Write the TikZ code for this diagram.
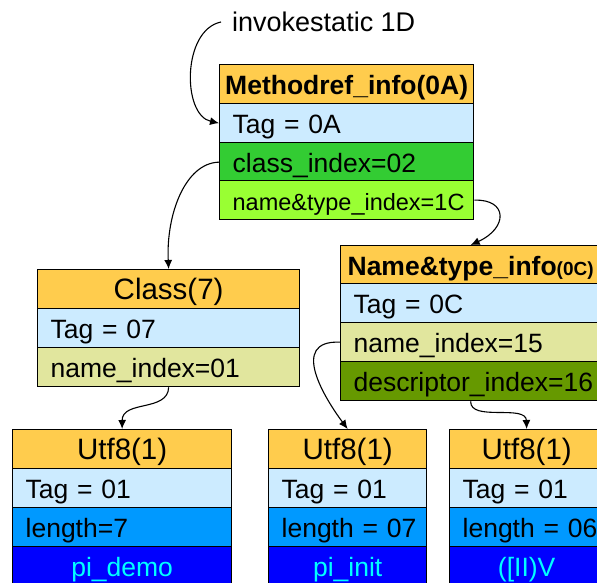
\documentclass[tikz,border=0pt]{standalone}
\usepackage{fontspec}
\setmainfont{Liberation Sans}
\usetikzlibrary{arrows.meta}
\definecolor{hdr}{HTML}{FFCC4D}
\definecolor{tagc}{HTML}{CCEBFF}
\definecolor{clsidx}{HTML}{33CC33}
\definecolor{ntidx}{HTML}{99FF33}
\definecolor{nmidx}{HTML}{E1E69E}
\definecolor{dscidx}{HTML}{669900}
\definecolor{lenc}{HTML}{0099FF}
\definecolor{strc}{HTML}{0000FF}
\definecolor{strt}{HTML}{00FFFF}
\newcommand\myfs[1]{\fontsize{#1}{30}\selectfont}
\newcommand\mystrut{\rule[-4.5pt]{0pt}{30pt}}
\newcommand\hdstrut{\rule[-3.5pt]{0pt}{30pt}}
\begin{document}
\begin{tikzpicture}[x=1pt,y=-1pt,
  cell/.style={draw=black, line width=1.3pt, anchor=north west, inner ysep=0pt, minimum height=39pt},
  hd/.style={cell, fill=hdr, font=\myfs{29.5}},
  lrow/.style={cell, inner xsep=13pt, align=left, font=\myfs{26.5}},
  crow/.style={cell, font=\myfs{26.5}},
  conn/.style={line width=1.1pt, -{Latex[length=9pt,width=8pt]}}]
\useasboundingbox (0,0) rectangle (597,583);
\clip (0,0) rectangle (597,583);

% invokestatic label
\node[font=\myfs{27}, anchor=west, inner xsep=11pt] (inv) at (221,22) {invokestatic 1D};

% Methodref_info
\node[hd, minimum width=254pt, font=\bfseries\myfs{26.5}] (m0) at (219,64) {\mystrut Methodref\_info(0A)};
\node[lrow, fill=tagc, text width=228pt] (m1) at (219,103) {\mbox{Tag = 0A\mystrut}};
\node[lrow, fill=clsidx, text width=228pt] (m2) at (219,142) {\mbox{class\_index=02\mystrut}};
\node[lrow, fill=ntidx, text width=228pt, font=\myfs{23.5}] (m3) at (219,180) {\mbox{name\&type\_index=1C\mystrut}};

% Class(7)
\node[hd, minimum width=262pt] (c0) at (37,269) {\hdstrut Class(7)};
\node[lrow, fill=tagc, text width=236pt] (c1) at (37,308) {\mbox{Tag = 07\mystrut}};
\node[lrow, fill=nmidx, text width=236pt] (c2) at (37,347) {\mbox{name\_index=01\mystrut}};

% Name&type_info
\node[hd, minimum width=260pt, font=\bfseries\myfs{26.5}] (n0) at (340,245) {\mystrut Name\&type\_info{\myfs{19}(0C)}};
\node[lrow, fill=tagc, text width=234pt] (n1) at (340,283) {\mbox{Tag = 0C\mystrut}};
\node[lrow, fill=nmidx, text width=234pt] (n2) at (340,322) {\mbox{name\_index=15\mystrut}};
\node[lrow, fill=dscidx, text width=234pt] (n3) at (340,361) {\mbox{descriptor\_index=16\mystrut}};

% Utf8 boxes
\node[hd, minimum width=219pt] (u10) at (12,429) {\hdstrut Utf8(1)};
\node[lrow, fill=tagc, text width=193pt] (u11) at (12,468) {\mbox{Tag = 01\mystrut}};
\node[lrow, fill=lenc, text width=193pt] (u12) at (12,507) {\mbox{length=7\mystrut}};
\node[crow, fill=strc, text=strt, minimum width=219pt] (u13) at (12,546) {\mystrut pi\_demo};

\node[hd, minimum width=158pt] (u20) at (268,429) {\hdstrut Utf8(1)};
\node[lrow, fill=tagc, text width=132pt] (u21) at (268,468) {\mbox{Tag = 01\mystrut}};
\node[lrow, fill=lenc, text width=132pt] (u22) at (268,507) {\mbox{length = 07\mystrut}};
\node[crow, fill=strc, text=strt, minimum width=158pt] (u23) at (268,546) {\mystrut pi\_init};

\node[hd, minimum width=154pt] (u30) at (449,429) {\hdstrut Utf8(1)};
\node[lrow, fill=tagc, text width=128pt] (u31) at (449,468) {\mbox{Tag = 01\mystrut}};
\node[lrow, fill=lenc, text width=128pt] (u32) at (449,507) {\mbox{length = 06\mystrut}};
\node[crow, fill=strc, text=strt, minimum width=154pt] (u33) at (449,546) {\mystrut ([II)V};

% connectors
\draw[conn] (inv.west) .. controls (182,30) and (182,115) .. (m1.west);
\draw[conn] (m2.west) .. controls (185,163) and (166,215) .. (c0.north);
\draw[conn] (m3.east) .. controls (508,199) and (508,228) .. (n0.north);
\draw[conn] (c2.south) .. controls (168,412) and (122,400) .. (u10.north);
\draw[conn] (n2.west) .. controls (288,340) and (326,400) .. (u20.north);
\draw[conn] (n3.south) .. controls (470,422) and (526,404) .. (u30.north);
\end{tikzpicture}
\end{document}
